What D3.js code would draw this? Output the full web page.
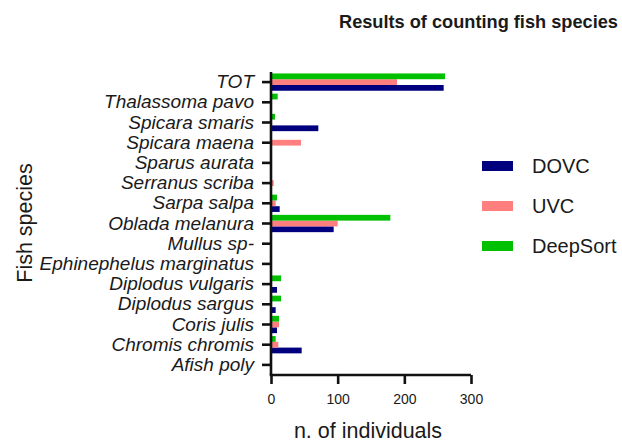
<!DOCTYPE html>
<html>
<head>
  <meta charset="utf-8">
  <title>Results of counting fish species</title>
  <script src="https://d3js.org/d3.v7.min.js"></script>
  <style type="text/css">
    body {margin: 0; background: #fff;}
    text {font-family: 'Liberation Sans', Arial, sans-serif; fill: #1a1a1a;}
    .tickLabel {font-size: 19px; font-style: italic;}
    .xTick {font-size: 14px;}
    .axisTitle {font-size: 21.5px;}
    .title {font-size: 18.2px; font-weight: bold;}
    .legendText {font-size: 20px;}
  </style>
</head>
<body>
  <div id="viz"></div>
<script type="text/javascript">

  // categories, top to bottom
  const species = [
    "TOT",
    "Thalassoma pavo",
    "Spicara smaris",
    "Spicara maena",
    "Sparus aurata",
    "Serranus scriba",
    "Sarpa salpa",
    "Oblada melanura",
    "Mullus sp-",
    "Ephinephelus marginatus",
    "Diplodus vulgaris",
    "Diplodus sargus",
    "Coris julis",
    "Chromis chromis",
    "Afish poly"
  ];

  // series values, same order as species
  const dovc =     [259, 0, 71, 0, 0, 0, 13, 94, 0, 0, 9, 7, 9, 46, 0];
  const uvc =      [189, 0, 0, 45, 0, 4, 7, 100, 0, 0, 0, 0, 12, 11, 0];
  const deepSort = [261, 10, 6, 0, 0, 0, 9, 179, 0, 0, 15, 15, 12, 7, 0];

  const seriesNames = ["DOVC", "UVC", "DeepSort"];
  const xTicks = [0, 100, 200, 300];

  const colorSet = {
    "DOVC": "#00007f",
    "UVC": "#ff7f7f",
    "DeepSort": "#00c000"
  };

  const FULLW = 622;
  const FULLH = 443;

  const AXISX = 271;
  const AXISTOP = 72;
  const AXISBOTTOM = 375;

  const seriesData = {
    "DOVC": dovc,
    "UVC": uvc,
    "DeepSort": deepSort
  };

  const scaleX = d3.scaleLinear().domain([0, 300]).range([AXISX, 471]);
  const scaleY = d3.scaleBand().domain(species).range([AXISTOP, AXISBOTTOM]);
  // green on top, then pink, then navy
  const scaleInner = d3.scaleBand()
    .domain(["DeepSort", "UVC", "DOVC"])
    .range([0, scaleY.bandwidth()])
    .paddingOuter(0.25)
    .paddingInner(0.0);

  const svg = d3.select("#viz")
    .append("svg")
    .attr("width", FULLW)
    .attr("height", FULLH);

  svg.append("rect")
    .attr("width", "100%")
    .attr("height", "100%")
    .attr("fill", "#fff");

  // title, right up against the edge
  svg.append("text")
    .attr("class", "title")
    .attr("x", 339)
    .attr("y", 28)
    .text("Results of counting fish species");

  // bars
  seriesNames.forEach(function (s) {
    svg.append("g")
      .selectAll("rect")
      .data(species)
      .join("rect")
      .attr("x", scaleX(0))
      .attr("y", function (d) { return scaleY(d) + scaleInner(s); })
      .attr("width", function (d, i) { return scaleX(seriesData[s][i]) - scaleX(0); })
      .attr("height", scaleInner.bandwidth())
      .attr("fill", colorSet[s]);
  });

  // y axis
  const yAxis = svg.append("g")
    .attr("transform", "translate(" + AXISX + ",0)")
    .call(d3.axisLeft(scaleY).tickSize(9).tickPadding(8));
  yAxis.select(".domain").attr("stroke", "#111").attr("stroke-width", 2.6)
    .attr("d", "M0," + AXISTOP + "V" + AXISBOTTOM);
  yAxis.selectAll(".tick line").attr("stroke", "#111").attr("stroke-width", 2.6);
  yAxis.selectAll(".tick text")
    .attr("class", "tickLabel")
    .attr("fill", null)
    .attr("font-size", null)
    .attr("font-family", null);

  // x axis
  const xAxis = svg.append("g")
    .attr("transform", "translate(0," + AXISBOTTOM + ")")
    .call(d3.axisBottom(scaleX).tickValues(xTicks).tickSize(9).tickPadding(10).tickFormat(d3.format("d")));
  xAxis.select(".domain").attr("stroke", "#111").attr("stroke-width", 2.6)
    .attr("d", "M" + (AXISX - 1.3) + ",0H" + scaleX(300));
  xAxis.selectAll(".tick line").attr("stroke", "#111").attr("stroke-width", 2.6);
  xAxis.selectAll(".tick text")
    .attr("class", "xTick")
    .attr("fill", null)
    .attr("font-size", null)
    .attr("font-family", null);

  // axis titles
  svg.append("text")
    .attr("class", "axisTitle")
    .attr("text-anchor", "middle")
    .attr("x", 368)
    .attr("y", 438)
    .text("n. of individuals");

  svg.append("text")
    .attr("class", "axisTitle")
    .attr("text-anchor", "middle")
    .attr("transform", "translate(32,223) rotate(-90)")
    .text("Fish species");

  // legend
  const legend = svg.append("g")
    .selectAll("g")
    .data(seriesNames)
    .join("g")
    .attr("transform", function (d, i) { return "translate(482," + (166 + i * 40) + ")"; });

  legend.append("rect")
    .attr("x", 0)
    .attr("y", -5)
    .attr("width", 31)
    .attr("height", 10)
    .attr("fill", function (d) { return colorSet[d]; });

  legend.append("text")
    .attr("class", "legendText")
    .attr("x", 50)
    .attr("y", 7)
    .text(function (d) { return d; });

</script>
</body>
</html>
